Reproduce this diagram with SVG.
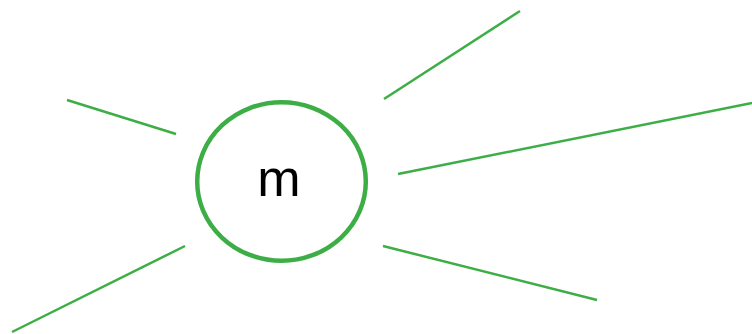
<svg xmlns="http://www.w3.org/2000/svg" width="752" height="334" viewBox="0 0 752 334">
<style>
.edge{stroke:#3dae45;stroke-width:2.5;fill:none;stroke-linecap:butt}
.node{stroke:#3dae45;stroke-width:4.5;fill:#ffffff}
.label{font-family:"Liberation Sans",Arial,sans-serif;font-size:52px;fill:#000000;text-anchor:middle}
</style>
<rect width="752" height="334" fill="#ffffff"/>
<g id="connectors">
<line class="edge" x1="67" y1="100" x2="176" y2="134"/>
<line class="edge" x1="12" y1="332" x2="185" y2="246"/>
<line class="edge" x1="384" y1="99" x2="520" y2="11"/>
<line class="edge" x1="398" y1="174" x2="752" y2="103"/>
<line class="edge" x1="383" y1="246" x2="597" y2="300"/>
</g>
<g id="node-m">
<ellipse class="node" cx="281.5" cy="181.5" rx="84.3" ry="79.3"/>
<text class="label" x="279" y="196">m</text>
</g>
</svg>
